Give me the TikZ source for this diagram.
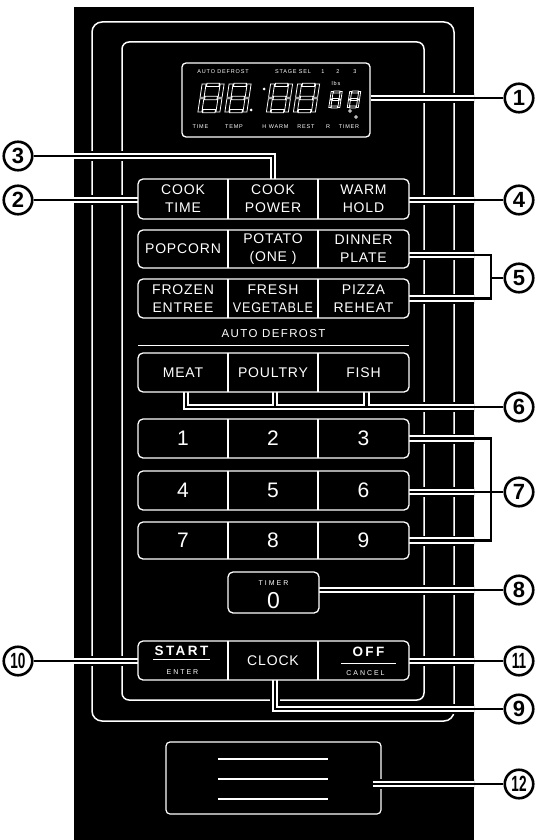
\documentclass[tikz,border=0pt]{standalone}
\usepackage{fontspec}
\usepackage{graphicx}
\setmainfont{Liberation Sans}
\newfontfamily\btnf{Liberation Sans}[LetterSpace=6]
\newfontfamily\widef{Liberation Sans}[LetterSpace=12]
\newfontfamily\startf{Liberation Sans}[LetterSpace=18]
\newfontfamily\tinyf{Liberation Sans}[LetterSpace=28]
\newfontfamily\dispf{Liberation Sans}[LetterSpace=15]
\usetikzlibrary{calc}
\pgfdeclarelayer{bg}
\pgfdeclarelayer{lead}
\pgfsetlayers{bg,lead,main}
\tikzset{
  btnrow/.style={draw=white, fill=black, line width=1.3pt, rounded corners=5pt, minimum width=271pt, inner sep=0pt, outer sep=0pt},
  btxt/.style={text=white, inner sep=0pt, align=center, font=\btnf\fontsize{14}{18}\selectfont},
  bnum/.style={text=white, inner sep=0pt, font=\fontsize{21}{21}\selectfont},
  numc/.style={circle, draw=black, line width=2.6pt, fill=white, minimum size=28.5pt, inner sep=0pt, font=\bfseries\fontsize{22}{22}\selectfont},
  frame/.style={draw=white, line width=1.5pt},
  dtxt/.style={text=white, inner sep=0pt, font=\dispf\fontsize{5.5}{6}\selectfont},
  seg/.style={draw=white, line width=0.8pt},
  wline/.style={draw=white, line width=1.2pt},
}
\newcommand\segdig[4]{%
  \begin{scope}[shift={(#1,#2)}, xslant=0.15, xscale=#3, yscale=#4]
    \draw[seg] (-2.8,-8) rectangle (2.8,-6.2) (-2.8,-0.9) rectangle (2.8,0.9)
      (-2.8,6.2) rectangle (2.8,8) (-5,-7.6) rectangle (-3.2,-0.4)
      (3.2,-7.6) rectangle (5,-0.4) (-5,0.4) rectangle (-3.2,7.6)
      (3.2,0.4) rectangle (5,7.6);
  \end{scope}}
\newcommand\ldrpath{%
  (disp.east |- c1) -- (c1)
  (c2) -- (r1.west |- c2)
  (c3) -| (t12 |- r1.north)
  (r1.east |- c4) -- (c4)
  (q5) -| (k5) |- (r3.east)
  (k5) -- (c5)
  (c6) -- (q1 |- c6) -- (q1 |- r4.south)
  (q2 |- c6) -- (q2 |- r4.south)
  (q3 |- c6) -- (q3 |- r4.south)
  (n1.east) -| (k7) |- (n3.east)
  (n2.east |- c7) -- (c7)
  (tm.east |- c8) -- (c8)
  (c10) -- (sr.west |- c10)
  (sr.east |- c11) -- (c11)
  (q9 |- sr.south) |- (c9)
  (q12 |- c12) -- (c12)
}
\begin{document}
\begin{tikzpicture}[x=1pt, y=-1pt]
\useasboundingbox (0,0) rectangle (535,840);
\begin{pgfonlayer}{bg}
  \fill[white] (0,0) rectangle (535,840);
  \fill[black] (74,7) rectangle (474,840);
  \draw[frame, rounded corners=10pt] (92,22) rectangle (454,721);
  \draw[frame, rounded corners=7pt] (122,42) rectangle (424,700);
  % bottom box 12
  \node[draw=white, line width=1.2pt, rounded corners=4pt, minimum width=215pt, minimum height=72pt, inner sep=0pt] (b12) at (273.5,778) {};
  \draw[white, line width=1.3pt] (218,759) -- (328,759) (218,779) -- (328,779) (218,799) -- (328,799);
\end{pgfonlayer}

\coordinate (dvA) at (228,0);
\coordinate (dvB) at (318,0);

% display
\node[draw=white, fill=black, line width=1.3pt, rounded corners=4pt, minimum width=188pt, minimum height=74pt, inner sep=0pt] (disp) at (276,100) {};
\node[dtxt] (da1) at (223,72) {AUTO DEFROST};
\node[dtxt] (da2) at (293,72) {STAGE SEL};
\node[dtxt] (da3) at (323,72) {1};
\node[dtxt] (da4) at (338,72) {2};
\node[dtxt] (da5) at (355,72) {3};
\node[dtxt] (db1) at (200.5,127) {TIME};
\node[dtxt] (db2) at (234,127) {TEMP};
\node[dtxt] (db3) at (275.5,127) {H WARM};
\node[dtxt] (db4) at (306,127) {REST};
\node[dtxt] (db5) at (328,127) {R};
\node[dtxt] (db6) at (349,127) {TIMER};
\node[dtxt] (dlb) at (336,84) {lbs};
\segdig{211}{98}{2.2}{1.85}
\segdig{238}{98}{2.2}{1.85}
\segdig{279.5}{98}{2.2}{1.85}
\segdig{306.5}{98}{2.2}{1.85}
\segdig{335.5}{99.5}{1.1}{1.06}
\segdig{354}{99.5}{1.1}{1.06}
\fill[white] (251,110) circle (1.5) (264,89) circle (1.5);
\draw[white, line width=0.7pt] (350,111) circle (1.3) (356,117) circle (1.3);

% button rows
\node[btnrow, minimum height=40pt] (r1) at (273.5,199) {};
\node[btnrow, minimum height=38pt] (r2) at (273.5,249) {};
\node[btnrow, minimum height=39pt] (r3) at (273.5,298.5) {};
\node[btnrow, minimum height=39pt] (r4) at (273.5,372.5) {};
\node[btnrow, minimum height=39pt] (n1) at (273.5,438.5) {};
\node[btnrow, minimum height=39pt] (n2) at (273.5,490.5) {};
\node[btnrow, minimum height=37pt] (n3) at (273.5,540.5) {};
\node[btnrow, minimum height=39pt] (sr) at (273.5,660.5) {};
\node[btnrow, minimum width=91pt, minimum height=41pt] (tm) at (273.5,592.5) {};
\foreach \R in {r1,r2,r3,r4,n1,n2,n3,sr}{
  \draw[wline] (\R.north -| dvA) -- (\R.south -| dvA) (\R.north -| dvB) -- (\R.south -| dvB);
}

\node[btxt] (t11) at (183,199) {COOK\\TIME};
\node[btxt] (t12) at (273,199) {COOK\\POWER};
\node[btxt] (t13) at (363.5,199) {WARM\\HOLD};
\node[btxt] (t21) at (183,249) {POPCORN};
\node[btxt] (t22) at (273,249) {POTATO\\(ONE )};
\node[btxt] (t23) at (363.5,249) {DINNER\\PLATE};
\node[btxt] (t31) at (183,298.5) {FROZEN\\ENTREE};
\node[btxt] (t32) at (273,298.5) {FRESH\\\scalebox{0.9}[1]{VEGETABLE}};
\node[btxt] (t33) at (363.5,298.5) {PIZZA\\REHEAT};
\node[text=white, inner sep=0pt, font=\widef\fontsize{11.5}{12}\selectfont] (ad) at (273.5,334) {AUTO DEFROST};
\draw[white, line width=1pt] ([yshift=8pt]r4.north west) -- ([yshift=8pt]r4.north east);
\node[btxt] (t41) at (183,372.5) {MEAT};
\node[btxt] (t42) at (273,372.5) {POULTRY};
\node[btxt] (t43) at (363.5,372.5) {FISH};
\node[bnum] (k1) at (183,438.5) {1};
\node[bnum] (k2) at (273,438.5) {2};
\node[bnum] (k3) at (363.5,438.5) {3};
\node[bnum] (k4) at (183,490.5) {4};
\node[bnum] (k5n) at (273,490.5) {5};
\node[bnum] (k6) at (363.5,490.5) {6};
\node[bnum] (k7n) at (183,540.5) {7};
\node[bnum] (k8) at (273,540.5) {8};
\node[bnum] (k9) at (363.5,540.5) {9};
\node[text=white, inner sep=0pt, font=\tinyf\fontsize{7}{7}\selectfont] (tmt) at (273.5,583) {TIMER};
\node[text=white, inner sep=0pt, font=\fontsize{23}{23}\selectfont] (tm0) at (273.5,600.5) {0};
\node[text=white, inner sep=0pt, font=\startf\bfseries\fontsize{13.5}{14}\selectfont] (tst) at (181.5,651) {START};
\draw[white, line width=1pt] (153,659) -- (210,659);
\node[text=white, inner sep=0pt, font=\tinyf\fontsize{7}{7}\selectfont] (ten) at (182.5,672) {ENTER};
\node[btxt] (tclock) at (273,661) {CLOCK};
\node[text=white, inner sep=0pt, font=\startf\bfseries\fontsize{13.5}{14}\selectfont] (toff) at (368.5,652) {OFF};
\draw[white, line width=1pt] (341,663) -- (396,663);
\node[text=white, inner sep=0pt, font=\tinyf\fontsize{7}{7}\selectfont] (tcan) at (365.5,673.5) {CANCEL};

% callout circles
\node[numc] (c1) at (519,98) {1};
\node[numc] (c3) at (18,156) {3};
\node[numc] (c2) at (18,200) {2};
\node[numc] (c4) at (519,200) {4};
\node[numc] (c5) at (519,278) {5};
\node[numc] (c6) at (519,407) {6};
\node[numc] (c7) at (519,492) {7};
\node[numc] (c8) at (519,590) {8};
\node[numc] (c10) at (18,661) {\scalebox{0.62}[1]{10}};
\node[numc] (c11) at (519,661) {\scalebox{0.62}[1]{11}};
\node[numc] (c9) at (519,709) {9};
\node[numc] (c12) at (519,784) {\scalebox{0.62}[1]{12}};

% helper coordinates for leaders
\coordinate (q5) at ([yshift=-6pt]r2.east);
\coordinate (k5) at (491,278);
\coordinate (k7) at (491,492);
\coordinate (q1) at ([xshift=3pt]t41.center);
\coordinate (q2) at ([xshift=2pt]t42.center);
\coordinate (q3) at ([xshift=3pt]t43.center);
\coordinate (q9) at ([xshift=2pt]tclock.center);
\coordinate (q12) at ([xshift=-9pt]b12.east);

\begin{pgfonlayer}{lead}
  \begin{scope}
    \clip (74,7) rectangle (474,840);
    \draw[black, line width=10pt] \ldrpath;
    \draw[white, line width=6.2pt] \ldrpath;
  \end{scope}
  \draw[black, line width=2.6pt] \ldrpath;
\end{pgfonlayer}
\end{tikzpicture}
\end{document}
